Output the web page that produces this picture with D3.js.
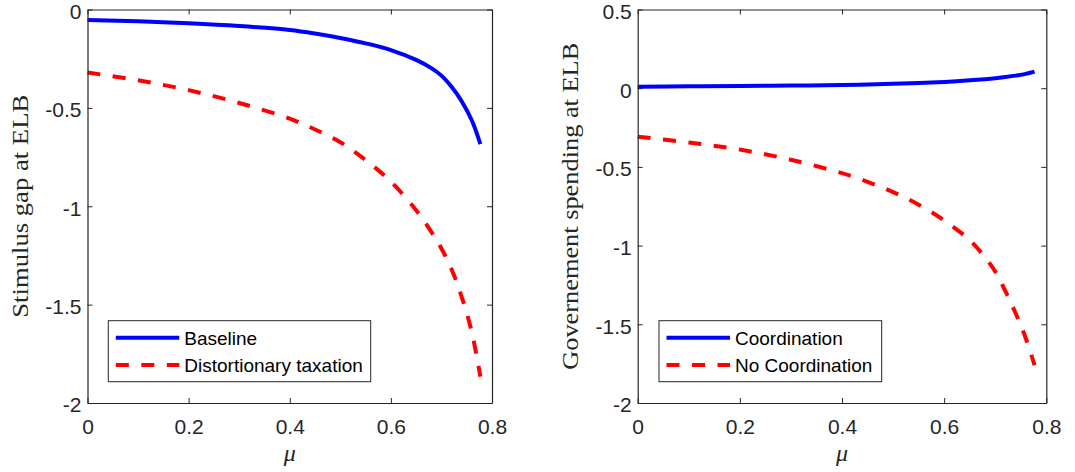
<!DOCTYPE html>
<html>
<head>
<meta charset="utf-8">
<script src="https://cdn.jsdelivr.net/npm/d3@7"></script>
<style>
  html, body { margin: 0; padding: 0; background: #fff; }
  svg { display: block; }
</style>
</head>
<body>
<svg id="chart" width="1075" height="472"></svg>
<script>
// ---- data ----
const mu = [0, 0.1, 0.2, 0.3, 0.4, 0.45, 0.5, 0.55, 0.6, 0.65, 0.68, 0.7, 0.72, 0.74, 0.76, 0.777];
const baseline       = [-0.053, -0.060, -0.070, -0.084, -0.104, -0.122, -0.145, -0.172, -0.206, -0.256, -0.298, -0.336, -0.393, -0.466, -0.563, -0.684];
const distortionary  = [-0.32, -0.36, -0.41, -0.475, -0.555, -0.61, -0.675, -0.765, -0.875, -1.02, -1.13, -1.215, -1.32, -1.46, -1.64, -1.866];
const coordination   = [0.010, 0.012, 0.014, 0.017, 0.020, 0.024, 0.028, 0.033, 0.040, 0.050, 0.057, 0.063, 0.071, 0.080, 0.091, 0.105];
const noCoordination = [-0.308, -0.345, -0.39, -0.455, -0.54, -0.595, -0.66, -0.74, -0.84, -0.965, -1.075, -1.165, -1.29, -1.43, -1.59, -1.76];

const xTicks = [0, 0.2, 0.4, 0.6, 0.8];
const yTicksLeft = [0, -0.5, -1, -1.5, -2];
const yTicksRight = [0.5, 0, -0.5, -1, -1.5, -2];

const panels = [
  { x0: 87.5, x1: 492, yDomain: [-2, 0], yTicks: yTicksLeft,
    ylabel: "Stimulus gap at ELB", ylabelX: 28, ylabelLen: 223,
    series: [ { name: "Baseline", values: baseline, color: "#0000ff", dash: null },
              { name: "Distortionary taxation", values: distortionary, color: "#ff0000", dash: "13,12.5" } ],
    legend: { x0: 108.3, x1: 370.7 } },
  { x0: 637.7, x1: 1046.3, yDomain: [-2, 0.5], yTicks: yTicksRight,
    ylabel: "Governement spending at ELB", ylabelX: 578, ylabelLen: 327,
    series: [ { name: "Coordination", values: coordination, color: "#0000ff", dash: null },
              { name: "No Coordination", values: noCoordination, color: "#ff0000", dash: "13,12.5" } ],
    legend: { x0: 659, x1: 881.7 } }
];

const svg = d3.select("#chart");
const yTop = 9.5, yBot = 403;
const axisColor = "#262626";
const sans = "'Liberation Sans', Arial, Helvetica, sans-serif";
const serif = "'Liberation Serif', 'DejaVu Serif', serif";
const fmt = d => String(d);

panels.forEach(p => {
  const x = d3.scaleLinear().domain([0, 0.8]).range([p.x0, p.x1]);
  const y = d3.scaleLinear().domain(p.yDomain).range([yBot, yTop]);
  const g = svg.append("g");

  // lines
  const line = d3.line().x((d, i) => x(mu[i])).y(d => y(d)).curve(d3.curveCatmullRom.alpha(0.5));
  p.series.forEach(s => {
    g.append("path").datum(s.values)
      .attr("d", line)
      .attr("fill", "none")
      .attr("stroke", s.color)
      .attr("stroke-width", 4)
      .attr("stroke-dasharray", s.dash)
      .attr("stroke-linecap", "butt")
      .attr("stroke-linejoin", "round");
  });

  // axes (inward ticks, box)
  const styleAxis = sel => {
    sel.select(".domain").attr("stroke", axisColor).attr("stroke-width", 1.2);
    sel.selectAll(".tick line").attr("stroke", axisColor).attr("stroke-width", 1);
    sel.selectAll(".tick text").attr("fill", axisColor).attr("font-size", 21).attr("font-family", sans);
  };
  g.append("g").attr("transform", `translate(0,${yBot})`)
    .call(d3.axisBottom(x).tickValues(xTicks).tickSizeInner(-5).tickSizeOuter(0).tickPadding(16).tickFormat(fmt))
    .call(styleAxis);
  g.append("g").attr("transform", `translate(0,${yTop})`)
    .call(d3.axisTop(x).tickValues(xTicks).tickSizeInner(-5).tickSizeOuter(0).tickFormat(""))
    .call(styleAxis);
  g.append("g").attr("transform", `translate(${p.x0},0)`)
    .call(d3.axisLeft(y).tickValues(p.yTicks).tickSizeInner(-5).tickSizeOuter(0).tickPadding(6).tickFormat(fmt))
    .call(styleAxis)
    .call(sel => sel.selectAll(".tick text").attr("dy", "0.42em"));
  g.append("g").attr("transform", `translate(${p.x1},0)`)
    .call(d3.axisRight(y).tickValues(p.yTicks).tickSizeInner(-5).tickSizeOuter(0).tickFormat(""))
    .call(styleAxis);

  // axis labels
  const yc = (yTop + yBot) / 2;
  g.append("text")
    .attr("transform", `translate(${p.ylabelX},${yc}) rotate(-90)`)
    .attr("text-anchor", "middle")
    .attr("font-family", serif)
    .attr("font-size", 23)
    .attr("textLength", p.ylabelLen)
    .attr("lengthAdjust", "spacingAndGlyphs")
    .attr("fill", axisColor)
    .text(p.ylabel);
  g.append("text")
    .attr("x", x(0.4)).attr("y", 461)
    .attr("text-anchor", "middle")
    .attr("font-family", serif)
    .attr("font-style", "italic")
    .attr("font-size", 24)
    .attr("fill", axisColor)
    .text("\u03bc");

  // legend
  const L = p.legend;
  const lg = g.append("g");
  lg.append("rect")
    .attr("x", L.x0).attr("y", 320.7)
    .attr("width", L.x1 - L.x0).attr("height", 61)
    .attr("fill", "#fff").attr("stroke", axisColor).attr("stroke-width", 1);
  const rows = [337.7, 365];
  p.series.forEach((s, i) => {
    lg.append("line")
      .attr("x1", L.x0 + 7.5).attr("x2", L.x0 + 71)
      .attr("y1", rows[i]).attr("y2", rows[i])
      .attr("stroke", s.color).attr("stroke-width", 4)
      .attr("stroke-dasharray", s.dash);
    lg.append("text")
      .attr("x", L.x0 + 76).attr("y", rows[i])
      .attr("dy", "0.36em")
      .attr("font-family", sans)
      .attr("font-size", 19)
      .attr("fill", "#000")
      .text(s.name);
  });
});
</script>
</body>
</html>
